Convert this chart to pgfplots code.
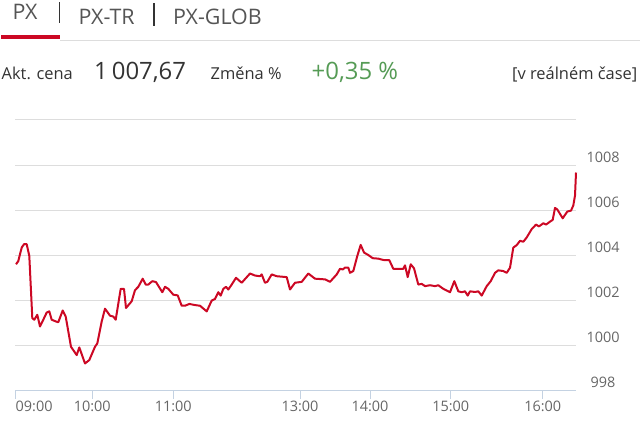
\documentclass[border=0pt]{standalone}
\usepackage{pgfplots}
\pgfplotsset{compat=1.18}
\usepackage{fontspec}
\setmainfont{Open Sans}
\definecolor{pxred}{RGB}{204,8,36}
\definecolor{gridgray}{RGB}{221,221,221}
\definecolor{axisblue}{RGB}{196,210,226}
\definecolor{txtdark}{RGB}{51,51,51}
\definecolor{txtgray}{RGB}{102,102,102}
\definecolor{tabgray}{RGB}{85,85,85}
\definecolor{upgreen}{RGB}{85,155,85}
\pgfplotstableread{
x y
16 1003.60
18.3 1003.74
21.7 1004.34
24 1004.49
26.7 1004.49
29.3 1003.97
32.3 1001.21
34.3 1001.14
37.3 1001.36
40 1000.84
43.3 1001.14
46.7 1001.46
49.3 1001.51
51.7 1001.14
56 1001.06
58.3 1001.03
62.7 1001.55
65.7 1001.28
71 999.94
76.7 999.57
79.3 999.91
85 999.20
89.3 999.35
95 999.94
97.3 1000.09
101.7 1001.06
105 1001.63
110 1001.32
113.3 1001.28
115.7 1001.14
120.7 1002.51
124 1002.51
126 1001.66
131.7 1001.96
135 1002.45
138.3 1002.60
142.7 1002.96
145.7 1002.70
148.3 1002.70
152.3 1002.85
156 1002.81
162.3 1002.36
165 1002.60
168.3 1002.51
173.3 1002.25
177.7 1002.22
181.7 1001.76
185 1001.76
189.3 1001.84
195 1001.79
200 1001.76
206.7 1001.51
211.7 1001.99
215 1002.06
218.3 1002.36
220.7 1002.21
223.3 1002.51
226 1002.60
228.3 1002.48
231.7 1002.70
236 1003.00
241.7 1002.78
250 1003.19
255 1003.10
260 1003.07
261.7 1003.15
265 1002.78
267.3 1002.82
271.7 1003.15
276.7 1003.07
286.7 1003.03
290 1002.48
295 1002.78
301.7 1002.82
308.3 1003.19
315 1002.96
325 1002.93
330 1002.82
336.7 1003.15
340 1003.40
342.7 1003.37
345 1003.45
348.3 1003.45
350 1003.22
353.3 1003.30
357.3 1003.97
360.7 1004.46
364 1004.12
368.3 1004.01
372.7 1003.87
378.3 1003.85
383.3 1003.79
389.3 1003.78
393.3 1003.40
403.3 1003.40
405 1003.55
407.7 1003.03
410.7 1003.60
414 1003.42
418.3 1002.70
421.7 1002.73
425 1002.63
430 1002.67
435 1002.63
438.3 1002.67
443.3 1002.51
450 1002.36
454.3 1002.85
458.3 1002.40
461.7 1002.36
465 1002.40
467.7 1002.21
470 1002.40
475 1002.37
478.3 1002.40
481.7 1002.21
486.7 1002.63
490.7 1002.85
495 1003.22
498.3 1003.33
503.3 1003.30
506.7 1003.22
510 1003.45
513.3 1004.34
516.7 1004.45
520 1004.64
523.3 1004.60
526.7 1004.79
531.7 1005.16
536 1005.36
539 1005.28
543.3 1005.42
546 1005.36
550 1005.49
552.7 1005.57
555 1006.10
557.3 1006.03
562.7 1005.64
567.3 1005.94
571 1005.98
573.3 1006.21
575 1006.65
576 1007.67
}\pxdata
\begin{document}
\begin{tikzpicture}[x=1bp,y=1bp]
\path[use as bounding box] (0,0) rectangle (640,422);
% header tabs
\node[anchor=base west, inner sep=0, text=tabgray, font=\fontsize{21.5}{24}\selectfont] at (12.5,402) {PX};
\node[anchor=base west, inner sep=0, text=tabgray, font=\fontsize{21.5}{24}\selectfont] at (78.5,397) {PX-TR};
\node[anchor=base west, inner sep=0, text=tabgray, font=\fontsize{21.5}{24}\selectfont] at (173,397) {PX-GLOB};
\draw[txtdark, line width=1.3bp] (59.5,399) -- (59.5,420);
\draw[txtdark, line width=1.3bp] (154,396) -- (154,419);
\fill[gridgray] (60,381) rectangle (640,382.3);
\fill[pxred] (1,383) rectangle (60,387);
% second row
\node[anchor=base west, inner sep=0, text=txtdark, font=\fontsize{16.5}{20}\selectfont] at (1.5,342.5) {Akt. cena};
\node[anchor=base west, inner sep=0, text=txtdark, font=\fontsize{24}{28}\selectfont] at (94,342.5) {1\,007,67};
\node[anchor=base west, inner sep=0, text=txtdark, font=\fontsize{16.5}{20}\selectfont] at (210.5,342.5) {Změna \%};
\node[anchor=base west, inner sep=0, text=upgreen, font=\fontsize{24}{28}\selectfont] at (311.5,342.5) {+0,35 \%};
\node[anchor=base east, inner sep=0, text=txtdark, font=\fontsize{16.5}{20}\selectfont] at (637.5,342.5) {[v reálném čase]};
\begin{axis}[
  at={(15bp,31.5bp)}, anchor=south west,
  scale only axis, width=561bp, height=270.5bp,
  xmin=15, xmax=576, ymin=998, ymax=1010,
  axis x line*=bottom, axis y line*=right,
  y axis line style={draw=none},
  x axis line style={draw=axisblue, line width=1bp, -},
  xtick={15.7,92.3,173.3,300,370,450.7,542.7},
  xticklabels={\makebox[0pt][l]{09:00},10:00,11:00,13:00,14:00,15:00,16:00},
  ytick={998,1000,1002,1004,1006,1008,1010},
  yticklabels={998,1000,1002,1004,1006,1008,{}},
  yticklabel pos=right,
  ymajorgrids, major grid style={draw=gridgray, line width=1bp},
  tick align=outside,
  xtick style={draw=axisblue, line width=1bp},
  ytick style={draw=none},
  major tick length=8bp,
  /pgf/number format/assume math mode=true,
  ticklabel style={font=\fontsize{14.5}{16}\selectfont, text=txtgray},
  xticklabel style={anchor=center, inner sep=0, yshift=-8bp},
  yticklabel style={anchor=center, inner sep=0, xshift=19bp, yshift=8bp},
  clip=false,
]
\addplot[pxred, line width=2bp, line join=round, mark=none] table[x=x,y=y] {\pxdata};
\end{axis}
\end{tikzpicture}
\end{document}
